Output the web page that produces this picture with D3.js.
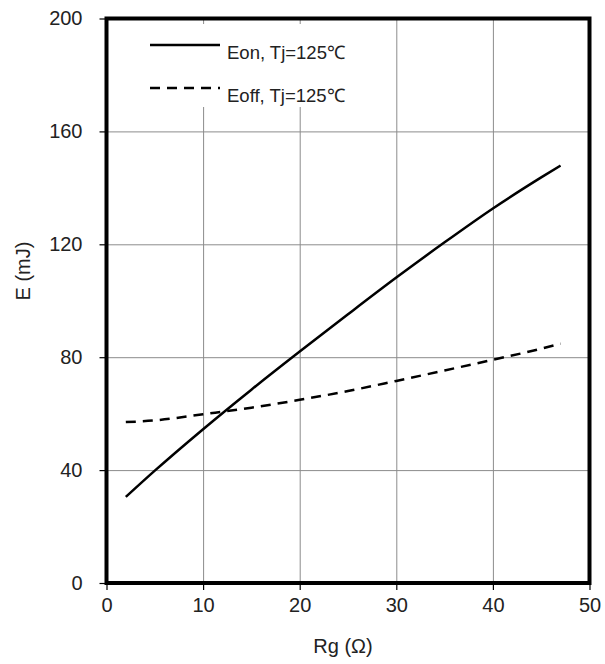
<!DOCTYPE html>
<meta charset="utf-8">
<style>
body { margin: 0; background: #fff; }
svg { display: block; }
text { font-family: "Liberation Sans", Arial, sans-serif; fill: #222; }
.grid line { stroke: #8c8c8c; stroke-width: 1px; }
.grid .domain { display: none; }
</style>
<svg width="605" height="664"></svg>
<script src="https://cdn.jsdelivr.net/npm/d3@7"></script>
<script>

// data
var rg = [2, 5, 10, 15, 20, 25, 30, 35, 40, 45, 47];
var eon = [30.5, 39.8, 54.5, 68.5, 82, 95.2, 108.2, 120.7, 132.7, 143.7, 147.9];
var eoff = [57, 57.6, 59.8, 62.1, 64.9, 68, 71.6, 75.3, 79.1, 83, 84.8];
var xTicks = [0, 10, 20, 30, 40, 50];
var yTicks = [0, 40, 80, 120, 160, 200];
var legendLabels = ["Eon, Tj=125\u2103", "Eoff, Tj=125\u2103"];

var svg = d3.select("svg");
var mLeft = 106.5, mRight = 589.5, mTop = 18.5, mBottom = 583;

var x = d3.scaleLinear().domain([0, 50]).range([mLeft, mRight]);
var y = d3.scaleLinear().domain([0, 200]).range([mBottom, mTop]);

// grid
svg.append("g")
    .attr("class", "grid")
    .attr("transform", "translate(0," + mBottom + ")")
    .call(d3.axisBottom(x).tickValues([10, 20, 30, 40]).tickSize(-(mBottom - mTop)).tickFormat(""));
svg.append("g")
    .attr("class", "grid")
    .attr("transform", "translate(" + mLeft + ",0)")
    .call(d3.axisLeft(y).tickValues([40, 80, 120, 160]).tickSize(-(mRight - mLeft)).tickFormat(""));

// white legend box hides the grid behind it
svg.append("rect")
    .attr("x", 120).attr("y", 24)
    .attr("width", 255).attr("height", 83)
    .attr("fill", "#fff");

// axes with outer ticks
var xAxis = svg.append("g")
    .attr("transform", "translate(0," + mBottom + ")")
    .call(d3.axisBottom(x).tickValues(xTicks).tickSize(7).tickPadding(8));
var yAxis = svg.append("g")
    .attr("transform", "translate(" + mLeft + ",0)")
    .call(d3.axisLeft(y).tickValues(yTicks).tickSize(7).tickPadding(17));
[xAxis, yAxis].forEach(function(a) {
  a.select(".domain").remove();
  a.selectAll("line").attr("stroke", "#000").attr("stroke-width", 1.2);
  a.selectAll("text")
    .style("font-family", '"Liberation Sans", Arial, sans-serif')
    .style("font-size", "20px")
    .attr("fill", "#222");
});

// curves
var line = d3.line()
    .x(function(d) { return x(d[0]); })
    .y(function(d) { return y(d[1]); })
    .curve(d3.curveMonotoneX);

svg.append("path")
    .datum(d3.zip(rg, eon))
    .attr("d", line)
    .attr("fill", "none")
    .attr("stroke", "#000")
    .attr("stroke-width", 2.5);

svg.append("path")
    .datum(d3.zip(rg, eoff))
    .attr("d", line)
    .attr("fill", "none")
    .attr("stroke", "#000")
    .attr("stroke-width", 2.5)
    .attr("stroke-dasharray", "10,7");

// legend
var legend = svg.append("g");
legendLabels.forEach(function(lbl, i) {
  var ly = 45 + i * 43;
  legend.append("line")
      .attr("x1", 150).attr("x2", 220)
      .attr("y1", ly).attr("y2", ly)
      .attr("stroke", "#000")
      .attr("stroke-width", 2.4)
      .attr("stroke-dasharray", i === 0 ? null : "10,7");
  legend.append("text")
      .attr("x", 227).attr("y", ly + 14)
      .style("font-size", "18.5px")
      .text(lbl);
});

// frame
svg.append("rect")
    .attr("x", mLeft).attr("y", mTop)
    .attr("width", mRight - mLeft).attr("height", mBottom - mTop)
    .attr("fill", "none")
    .attr("stroke", "#000")
    .attr("stroke-width", 4);

// axis titles
svg.append("text")
    .attr("x", (mLeft + mRight) / 2 - 5)
    .attr("y", 653)
    .attr("text-anchor", "middle")
    .style("font-size", "20px")
    .text("Rg (\u03A9)");

svg.append("text")
    .attr("transform", "translate(30,271) rotate(-90)")
    .attr("text-anchor", "middle")
    .style("font-size", "20px")
    .text("E (mJ)");

</script>
